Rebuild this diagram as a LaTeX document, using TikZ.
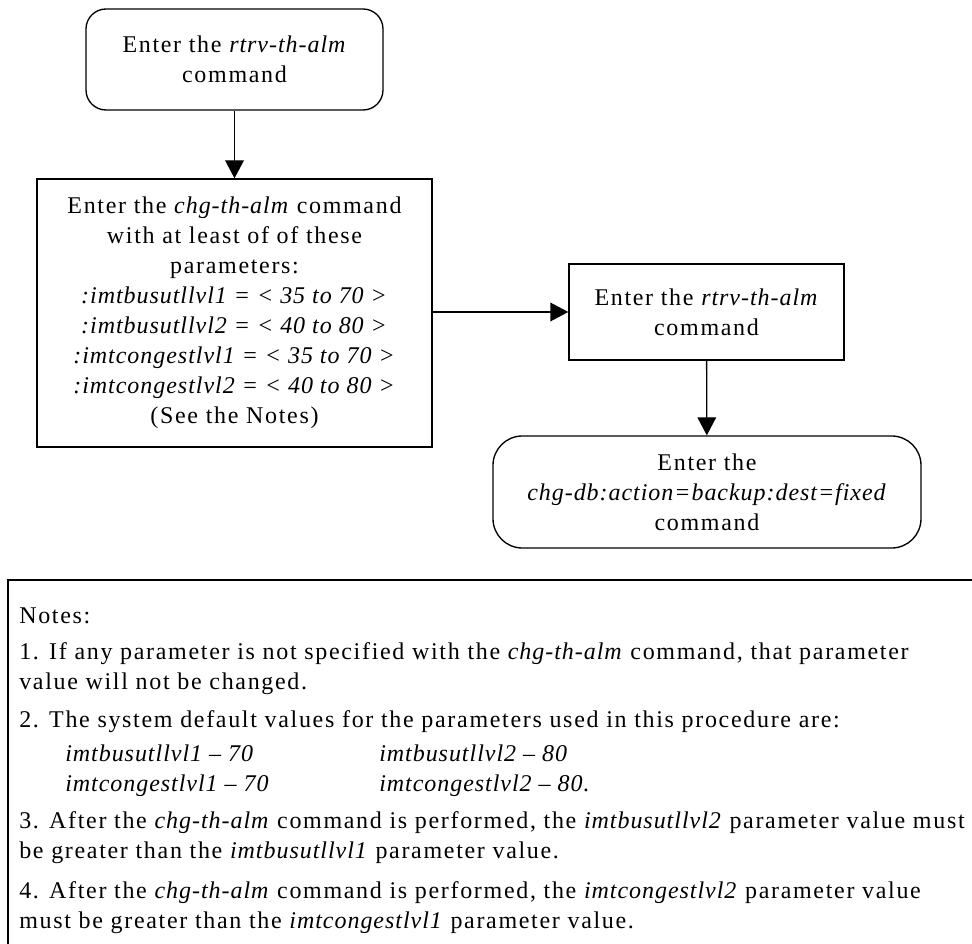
\documentclass[tikz,border=0pt]{standalone}
\usepackage{fontspec}
\setmainfont{Liberation Serif}[
  UprightFeatures={LetterSpace=7},
  ItalicFeatures={LetterSpace=4}]
\usetikzlibrary{arrows.meta}

\newcommand{\cmd}[1]{\textit{#1}}
\newcommand{\dflt}[2]{\makebox[235.5pt][l]{\textit{#1}}\textit{#2}}

\begin{document}
\begin{tikzpicture}[x=0.75pt,y=-0.75pt,
    every node/.style={font=\fontsize{18}{22.5}\selectfont},
    stepbox/.style={draw,line width=1pt,align=center,inner sep=0pt},
    roundbox/.style={stepbox,rounded corners=15pt},
    flow/.style={line width=1pt,-{Triangle[length=13.5pt,width=14pt]}}]
    \clip (0,0) rectangle (972,944);
    % ---- flow: left column ----
    \node[roundbox,minimum width=222.75pt,minimum height=75.75pt] (rtrvA) at (234.5,59.5)
      {Enter the \cmd{rtrv-th-alm}\\command};
    \node[stepbox,minimum width=296.25pt,minimum height=201pt] (chgalm) at (234.5,313)
      {Enter the \cmd{chg-th-alm} command\\with at least of of these\\parameters:\\
       \cmd{:imtbusutllvl1 = < 35 to 70 >}\\\cmd{:imtbusutllvl2 = < 40 to 80 >}\\
       \cmd{:imtcongestlvl1 = < 35 to 70 >}\\\cmd{:imtcongestlvl2 = < 40 to 80 >}\\
       (See the Notes)};
    % ---- flow: right column ----
    \node[stepbox,minimum width=206.25pt,minimum height=72pt] (rtrvB) at (706.5,312)
      {Enter the \cmd{rtrv-th-alm}\\command};
    \node[stepbox,rounded corners=22pt,minimum width=321pt,minimum height=84pt] (backup) at (707,492)
      {Enter the\\\cmd{chg-db:action=backup:dest=fixed}\\command};
    \draw[flow] (rtrvA) -- (chgalm);
    \draw[flow] (chgalm.east |- rtrvB.west) -- (rtrvB.west);
    \draw[flow] (rtrvB) -- (backup);
    % ---- notes box (runs off the page edge) ----
    \draw[line width=1pt] (8,580) rectangle (1000,1000);
    \node[anchor=north west,inner sep=0pt,align=left] (notes) at (19,608)
      {Notes:\\[4.5pt]
       1. If any parameter is not specified with the \cmd{chg-th-alm} command, that parameter\\
       value will not be changed.\\[6pt]
       2. The system default values for the parameters used in this procedure are:\\[3pt]
       \hspace*{34.5pt}\dflt{imtbusutllvl1 -- 70}{imtbusutllvl2 -- 80}\\
       \hspace*{34.5pt}\dflt{imtcongestlvl1 -- 70}{imtcongestlvl2 -- 80.}\\[5pt]
       3. After the \cmd{chg-th-alm} command is performed, the \cmd{imtbusutllvl2} parameter value must\\
       be greater than the \cmd{imtbusutllvl1} parameter value.\\[7.5pt]
       4. After the \cmd{chg-th-alm} command is performed, the \cmd{imtcongestlvl2} parameter value\\
       must be greater than the \cmd{imtcongestlvl1} parameter value.};
\end{tikzpicture}
\end{document}
